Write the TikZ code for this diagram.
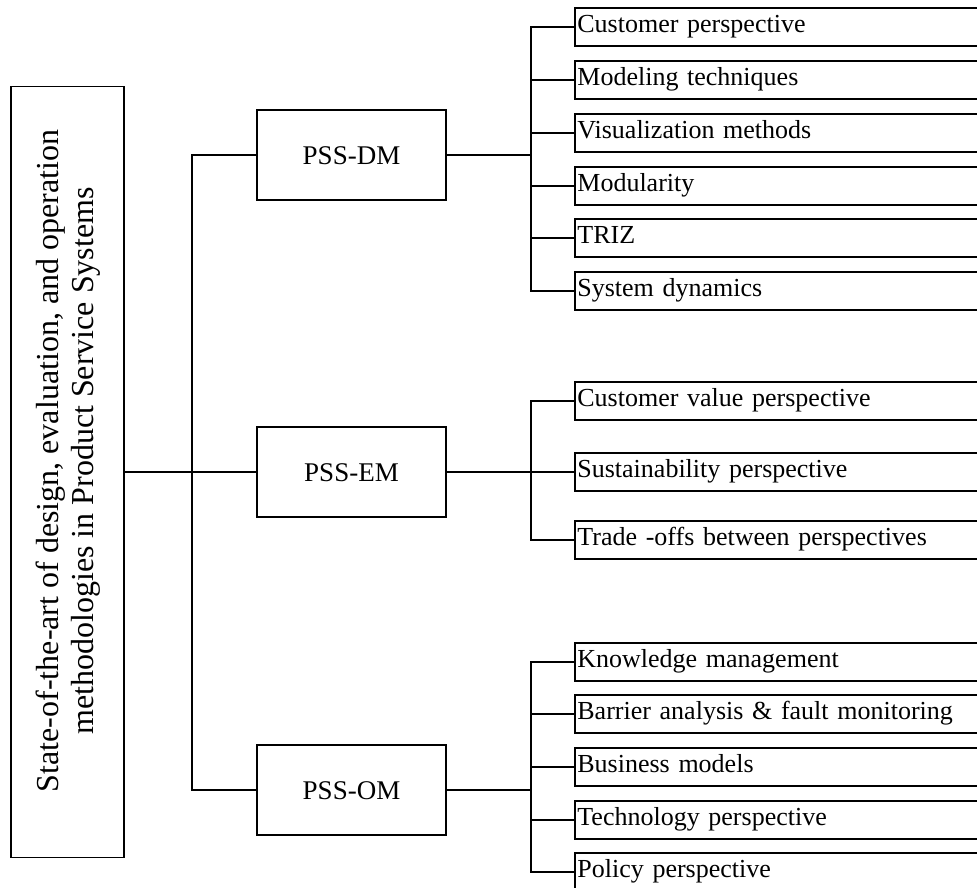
\documentclass[tikz,border=0pt]{standalone}
\usepackage{fontspec}
\setmainfont{Liberation Serif}
\begin{document}
\begin{tikzpicture}[x=1pt,y=-1pt,line width=1.8pt,line join=miter,
  rootbox/.style={draw,minimum width=113pt,minimum height=771pt,inner sep=0pt},
  roottext/.style={rotate=90,align=center,inner sep=0pt,font=\fontsize{32}{35}\selectfont},
  midbox/.style={draw,minimum width=189pt,minimum height=90pt,inner sep=0pt,
    font=\fontsize{27}{32}\selectfont,text height=18pt,text depth=0pt},
  leafbox/.style={draw,anchor=west,minimum height=38pt,text width=480pt,inner xsep=2.5pt,
    inner ysep=0pt,align=left,font=\fontsize{26}{30}\selectfont,text height=17pt,text depth=7pt}]
\useasboundingbox (0,0) rectangle (977,887);
% root
\node[rootbox] (root) at (67.5,472) {};
\node[roottext] (roottxt) at (68,461) {State-of-the-art of design, evaluation, and operation\\methodologies in Product Service Systems};
% middle level
\node[midbox] (dm) at (351.5,155) {PSS-DM};
\node[midbox] (em) at (351.5,472) {PSS-EM};
\node[midbox] (om) at (351.5,790) {PSS-OM};
\coordinate (tk) at (192,472);
\draw (root.east |- em.west) -- (em.west);
\draw (dm.west) -| (tk) |- (om.west);
% DM leaves
\node[leafbox] (d1) at (574,27) {Customer perspective};
\node[leafbox] (d2) at (574,80) {Modeling techniques};
\node[leafbox] (d3) at (574,133) {Visualization methods};
\node[leafbox] (d4) at (574,186) {Modularity};
\node[leafbox] (d5) at (574,238) {TRIZ};
\node[leafbox] (d6) at (574,291) {System dynamics};
\coordinate (bd) at (531,155);
\draw (dm.east) -- (bd);
\foreach \n in {d1,d2,d3,d4,d5,d6} \draw (\n.west) -| (bd);
% EM leaves
\node[leafbox] (e1) at (574,401) {Customer value perspective};
\node[leafbox] (e2) at (574,472) {Sustainability perspective};
\node[leafbox] (e3) at (574,540) {Trade -offs between perspectives};
\coordinate (be) at (531,472);
\draw (em.east) -- (be);
\foreach \n in {e1,e2,e3} \draw (\n.west) -| (be);
% OM leaves
\node[leafbox] (o1) at (574,662) {Knowledge management};
\node[leafbox] (o2) at (574,714) {Barrier analysis \& fault monitoring};
\node[leafbox] (o3) at (574,767) {Business models};
\node[leafbox] (o4) at (574,820) {Technology perspective};
\node[leafbox] (o5) at (574,872) {Policy perspective};
\coordinate (bo) at (531,790);
\draw (om.east) -- (bo);
\foreach \n in {o1,o2,o3,o4,o5} \draw (\n.west) -| (bo);
\end{tikzpicture}
\end{document}
